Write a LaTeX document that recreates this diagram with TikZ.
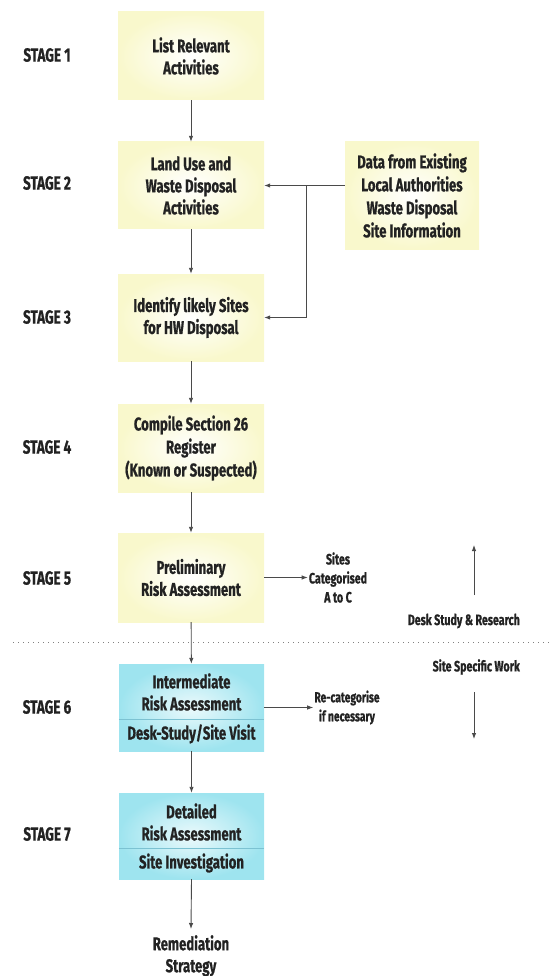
\documentclass[tikz,border=0pt]{standalone}
\usepackage{fontspec}
\setmainfont{Fira Sans}[FakeStretch=0.71, FakeBold=0.8]
\usetikzlibrary{arrows.meta}
\definecolor{ylw}{HTML}{F9F8CC}
\definecolor{cyn}{HTML}{9EE4EF}
\definecolor{txt}{HTML}{222222}
\definecolor{ln}{HTML}{4A4A4A}
\definecolor{divc}{HTML}{7CC2D2}
\begin{document}
\begin{tikzpicture}[x=1pt,y=-1pt,
  font=\bfseries\fontsize{18.5}{22}\selectfont, text=txt,
  ybox/.style={minimum width=146pt, inner sep=0pt, align=center, inner color=white, outer color=ylw},
  cbox/.style={minimum width=145pt, inner sep=0pt, inner color=cyn!20, outer color=cyn},
  ctext/.style={inner sep=0pt, align=center},
  stagelbl/.style={font=\bfseries\fontsize{19}{20}\selectfont},
  small/.style={font=\bfseries\fontsize{15}{19}\selectfont, align=center, inner sep=1pt},
  arr/.style={draw=ln, line width=0.9pt, -{Latex[length=6pt,width=4.5pt]}},
  divline/.style={draw=divc, line width=0.8pt},
  dotline/.style={draw=gray, line width=1pt, dash pattern=on 1pt off 4pt}]
\useasboundingbox (0,0) rectangle (552,976);

% stage labels
\node[stagelbl] (s1) at (47,55) {STAGE 1};
\node[stagelbl] (s2) at (47,183) {STAGE 2};
\node[stagelbl] (s3) at (47,317) {STAGE 3};
\node[stagelbl] (s4) at (47,447) {STAGE 4};
\node[stagelbl] (s5) at (47,578) {STAGE 5};
\node[stagelbl] (s6) at (47,707) {STAGE 6};
\node[stagelbl] (s7) at (47,834) {STAGE 7};

% yellow boxes
\node[ybox, minimum height=88pt] (b1) at (191,56) {List Relevant\\Activities};
\node[ybox, minimum height=87pt] (b2) at (191,185.5) {Land Use and\\Waste Disposal\\Activities};
\node[ybox, minimum height=87pt] (b3) at (191,317.5) {Identify likely Sites\\for HW Disposal};
\node[ybox, minimum height=88pt, font=\bfseries\fontsize{18.5}{23}\selectfont] (b4) at (191,448) {Compile Section 26\\Register\\(Known or Suspected)};
\node[ybox, minimum height=89pt] (b5) at (191,577.5) {Preliminary\\Risk Assessment};
\node[ybox, minimum width=134pt, minimum height=107pt, font=\bfseries\fontsize{18.5}{23}\selectfont] (data) at (412,195.5) {Data from Existing\\Local Authorities\\Waste Disposal\\Site Information};

% cyan boxes
\node[cbox, minimum height=87pt] (b6) at (191.5,707.5) {};
\node[ctext] (b6t) at (191.5,692) {Intermediate\\Risk Assessment};
\node[ctext] (b6b) at (191.5,734) {Desk-Study/Site Visit};
\coordinate (d6) at (0,719);
\draw[divline] (b6.west |- d6) -- (b6.east |- d6);

\node[cbox, minimum height=86pt] (b7) at (191.5,836) {};
\node[ctext] (b7t) at (191.5,822) {Detailed\\Risk Assessment};
\node[ctext] (b7b) at (191.5,863) {Site Investigation};
\coordinate (d7) at (0,848);
\draw[divline] (b7.west |- d7) -- (b7.east |- d7);

% outcome texts
\node[small] (sites) at (338,577.5) {Sites\\Categorised\\A to C};
\node[small, font=\bfseries\fontsize{14.5}{19}\selectfont] (recat) at (347,707.5) {Re-categorise\\if necessary};
\node[anchor=north, inner xsep=1pt, inner ysep=6pt, align=center] (rem) at (191,929) {Remediation\\Strategy};

\node[small, anchor=east] (desk) at (521,621) {Desk Study \& Research};
\node[small, anchor=east] (site) at (521,667) {Site Specific Work};

% dotted separator
\coordinate (dl) at (13,642);
\coordinate (dr) at (552,642);
\draw[dotline] (dl) -- (dr);

% connectors
\draw[arr] (b1) -- (b2);
\draw[arr] (b2) -- (b3);
\draw[arr] (b3) -- (b4);
\draw[arr] (b4) -- (b5);
\draw[arr] (b5) -- (b6);
\draw[arr] (b6) -- (b7);
\draw[arr] (b7.south) -- (rem.north);
\draw[arr] (data.west |- b2.east) -- (b2.east);
\coordinate (j) at (306,185.5);
\draw[arr] (j) |- (b3.east);
\draw[arr] (b5.east) -- (sites.west);
\draw[arr] (b6.east) -- (recat.west);

\coordinate (u1) at (474,595);
\coordinate (u2) at (474,545);
\draw[arr] (u1) -- (u2);
\coordinate (v1) at (474,692);
\coordinate (v2) at (474,739);
\draw[arr] (v1) -- (v2);
\end{tikzpicture}
\end{document}
